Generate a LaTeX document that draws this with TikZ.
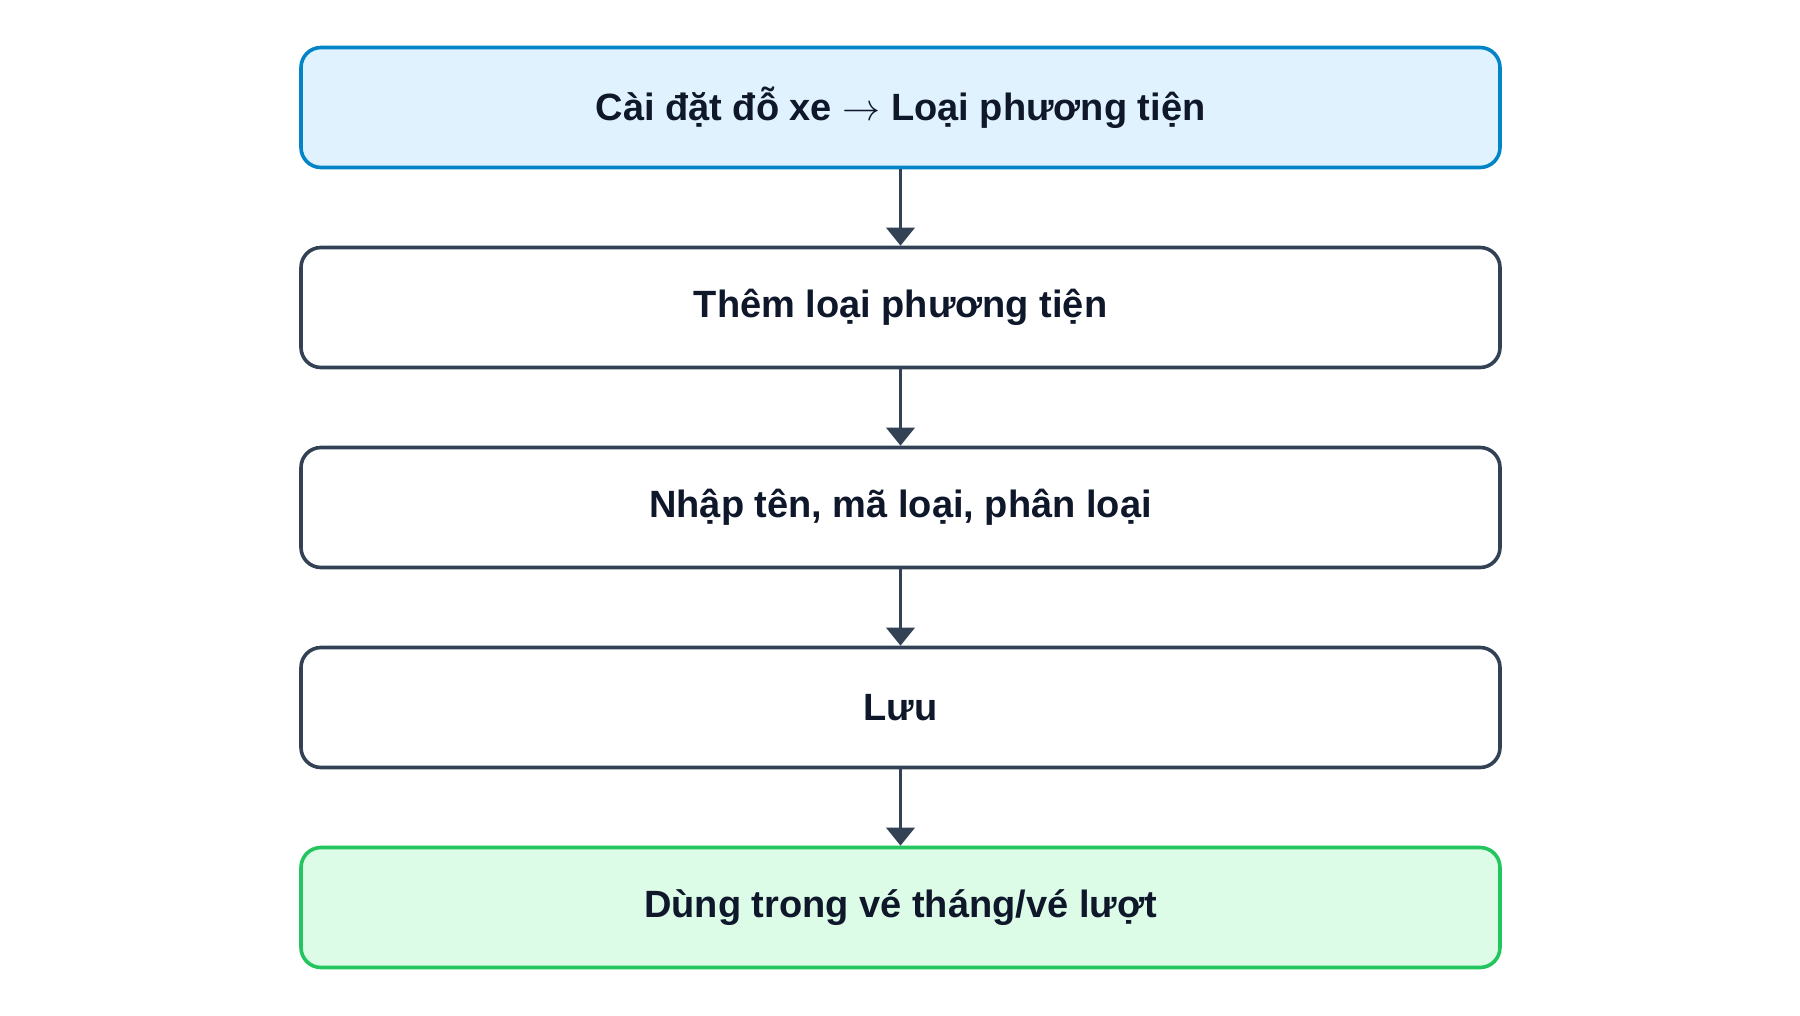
\documentclass[tikz,border=0pt]{standalone}
\usepackage{graphicx}
\usepackage{fontspec}
\setmainfont{Liberation Sans}
\usetikzlibrary{arrows.meta}
\definecolor{txt}{HTML}{0F172A}
\definecolor{edge}{HTML}{334155}
\definecolor{bluestroke}{HTML}{0284C7}
\definecolor{bluefill}{HTML}{E0F2FE}
\definecolor{greenstroke}{HTML}{22C55E}
\definecolor{greenfill}{HTML}{DCFCE7}
\tikzset{
  stepbox/.style={draw=edge, fill=white, line width=3.6pt, rounded corners=20pt,
    minimum width=1199pt, minimum height=120pt, inner sep=0pt,
    text=txt, font=\fontsize{38}{44}\selectfont\bfseries},
  startbox/.style={stepbox, draw=bluestroke, fill=bluefill},
  endbox/.style={stepbox, draw=greenstroke, fill=greenfill},
  flow/.style={draw=edge, line width=3.6pt, -{Triangle[width=28pt,length=18pt]}}
}
\begin{document}
\begin{tikzpicture}[x=1pt,y=-1pt]
\useasboundingbox (0,0) rectangle (1800,1016);
\node[startbox] (a) at (900.5,107.5) {Cài đặt đỗ xe \resizebox{38pt}{!}{$\rightarrow$} Loại phương tiện};
\node[stepbox] (b) at (900.5,307.5) {Thêm loại phương tiện};
\node[stepbox] (c) at (900.5,507.5) {Nhập tên, mã loại, phân loại};
\node[stepbox] (d) at (900.5,707.5) {Lưu};
\node[endbox] (e) at (900.5,907.5) {Dùng trong vé tháng/vé lượt};
\draw[flow] (a) -- (b);
\draw[flow] (b) -- (c);
\draw[flow] (c) -- (d);
\draw[flow] (d) -- (e);
\end{tikzpicture}
\end{document}
